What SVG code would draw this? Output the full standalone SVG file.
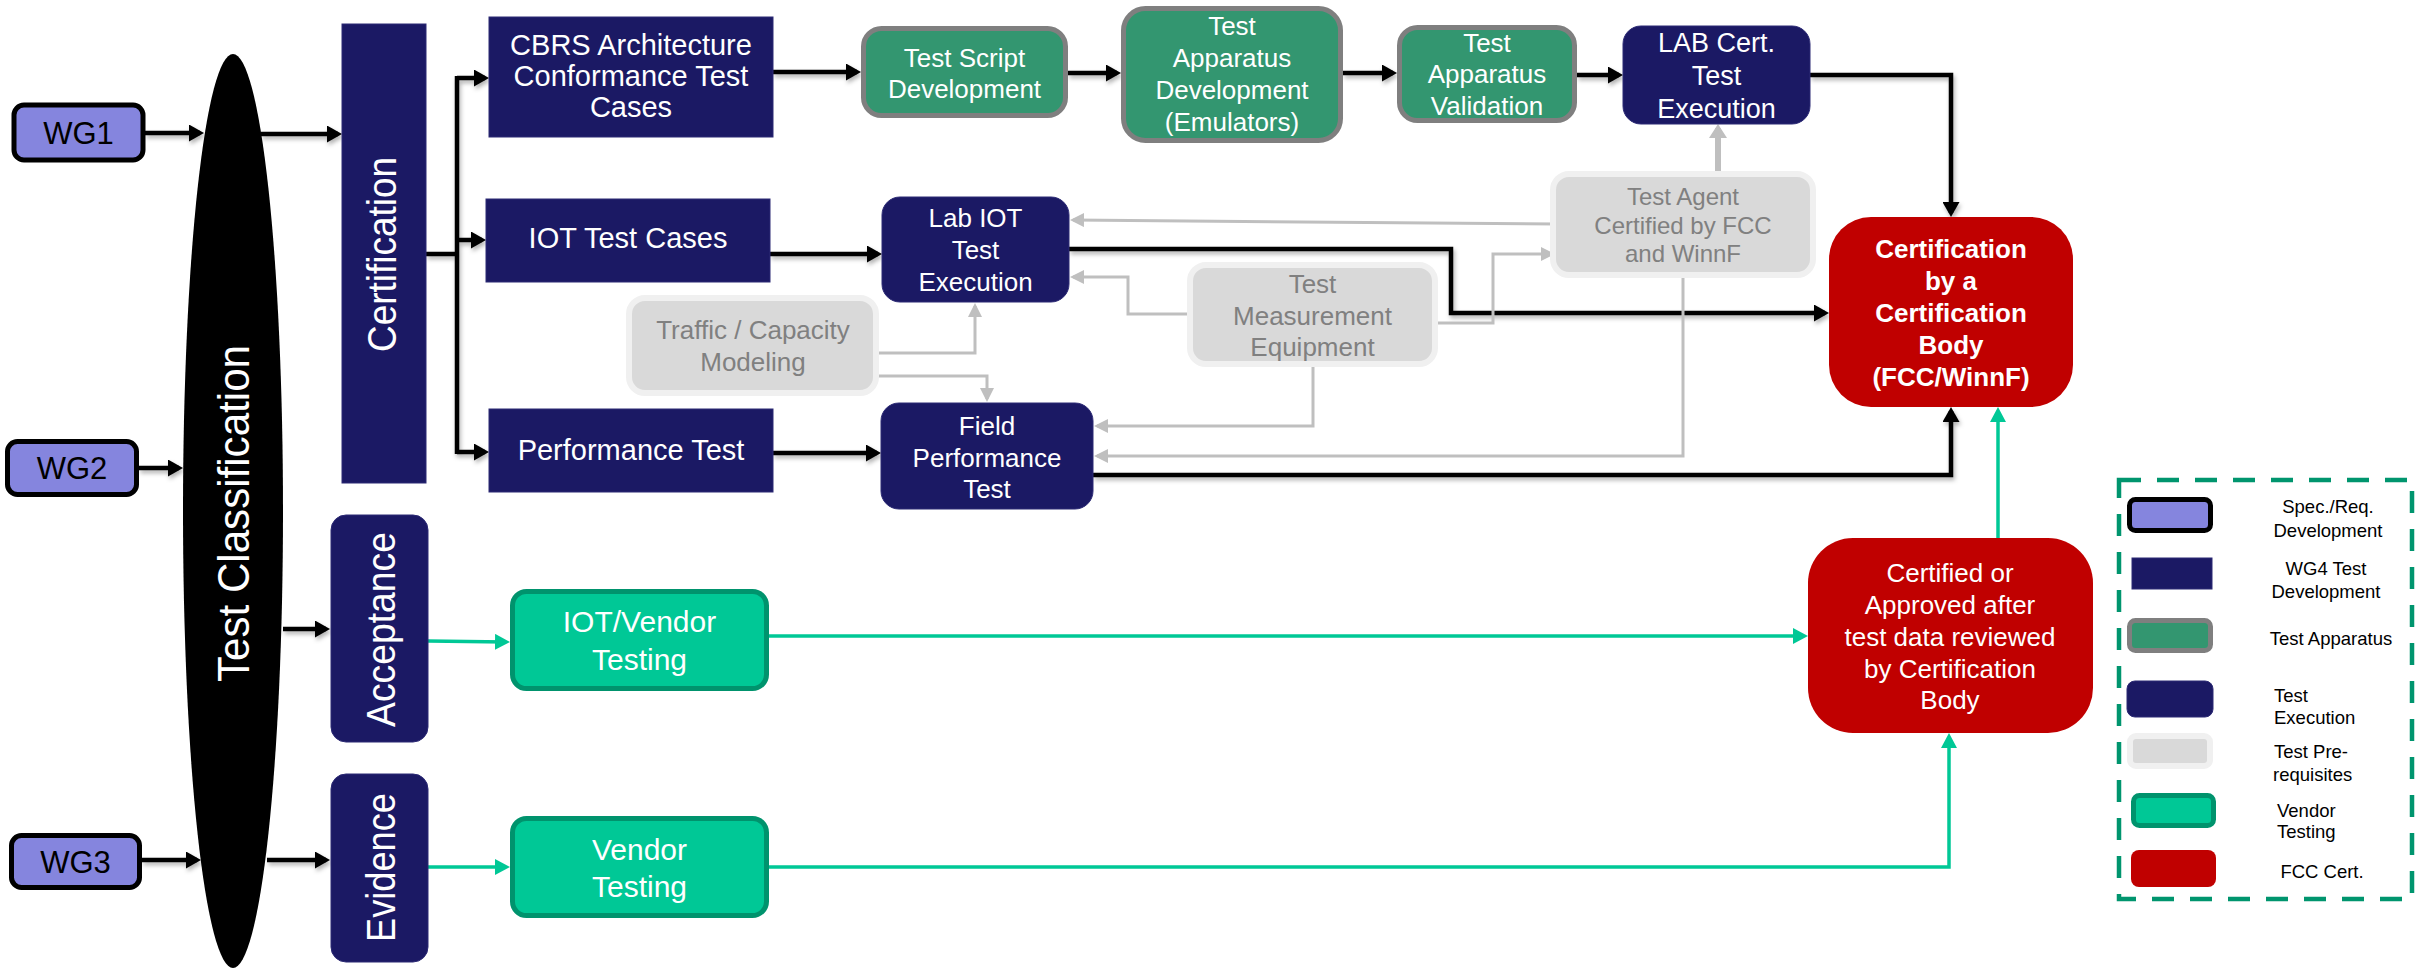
<svg xmlns="http://www.w3.org/2000/svg" width="2420" height="973" viewBox="0 0 2420 973">
<defs>
<style>
text{font-family:"Liberation Sans",Arial,Helvetica,sans-serif}
.wt{fill:#fff;font-size:26px;text-anchor:middle}
.wt29{fill:#fff;font-size:29px;text-anchor:middle}
.gt{fill:#808080;font-size:26px;text-anchor:middle}
.lg{fill:#000;font-size:18.5px}
.navy{fill:#1b1964;stroke:#2c2a75;stroke-width:1}
.app{fill:#339670;stroke:#7f7f7f;stroke-width:5}
.pre{fill:#d9d9d9;stroke:#f0f0f0;stroke-width:6}
.ven{fill:#00c896;stroke:#00936d;stroke-width:5}
.wg{fill:#8585de;stroke:#000;stroke-width:5}
.red{fill:#c00000}
.cb{fill:none;stroke:#000;stroke-width:4.5}
.cg{fill:none;stroke:#bfbfbf;stroke-width:3}
.ct{fill:none;stroke:#00c896;stroke-width:3.5}
</style>
<marker id="aB" viewBox="0 0 15 17" markerWidth="15" markerHeight="17" refX="11" refY="8.5" orient="auto" markerUnits="userSpaceOnUse"><path d="M0,0 L15,8.5 L0,17 z" fill="#000"/></marker>
<marker id="aG" viewBox="0 0 14 14" markerWidth="14" markerHeight="14" refX="11" refY="7" orient="auto" markerUnits="userSpaceOnUse"><path d="M0,0 L14,7 L0,14 z" fill="#bfbfbf"/></marker>
<marker id="aGT" viewBox="0 0 14 18" markerWidth="14" markerHeight="18" refX="10" refY="9" orient="auto" markerUnits="userSpaceOnUse"><path d="M0,0 L14,9 L0,18 z" fill="#bfbfbf"/></marker>
<marker id="aT" viewBox="0 0 15 16" markerWidth="15" markerHeight="16" refX="11" refY="8" orient="auto" markerUnits="userSpaceOnUse"><path d="M0,0 L15,8 L0,16 z" fill="#00c896"/></marker>
<filter id="sh" x="-5%" y="-5%" width="110%" height="110%"><feDropShadow dx="1.5" dy="3" stdDeviation="2" flood-color="#000" flood-opacity="0.3"/></filter>
</defs>
<rect width="2420" height="973" fill="#fff"/>

<g id="connectors">
<g filter="url(#sh)">
<path class="cb" d="M145,133 H200" marker-end="url(#aB)"/>
<path class="cb" d="M261,134 H338" marker-end="url(#aB)"/>
<path class="cb" d="M139,468 H179" marker-end="url(#aB)"/>
<path class="cb" d="M283,629 H326" marker-end="url(#aB)"/>
<path class="cb" d="M142,860 H197" marker-end="url(#aB)"/>
<path class="cb" d="M267,860 H326" marker-end="url(#aB)"/>
<path class="cb" d="M426,254 H457"/>
<path class="cb" d="M457,76 V454"/>
<path class="cb" d="M457,78 H485" marker-end="url(#aB)"/>
<path class="cb" d="M457,240 H482" marker-end="url(#aB)"/>
<path class="cb" d="M457,452 H485" marker-end="url(#aB)"/>
<path class="cb" d="M773,72 H857" marker-end="url(#aB)"/>
<path class="cb" d="M1068,73 H1117" marker-end="url(#aB)"/>
<path class="cb" d="M1343,73 H1393" marker-end="url(#aB)"/>
<path class="cb" d="M1577,75 H1619" marker-end="url(#aB)"/>
<path class="cb" d="M1810,75 H1951 V213" marker-end="url(#aB)"/>
<path class="cb" d="M770,254 H878" marker-end="url(#aB)"/>
<path class="cb" d="M1069,249 H1451 V313 H1825" marker-end="url(#aB)"/>
<path class="cb" d="M773,453 H877" marker-end="url(#aB)"/>
<path class="cb" d="M1093,475 H1951 V411" marker-end="url(#aB)"/>
</g>
<path class="cg" d="M1556,224 L1073,220" marker-end="url(#aG)"/>
<path class="cg" d="M1193,314 H1128 V277 H1073" marker-end="url(#aG)"/>
<path class="cg" d="M1432,323 H1493 V254 H1552" marker-end="url(#aG)"/>
<path class="cg" d="M1313,361 V426 H1097" marker-end="url(#aG)"/>
<path class="cg" d="M1683,272 V456 H1097" marker-end="url(#aG)"/>
<path class="cg" d="M873,353 H975 V306" marker-end="url(#aG)"/>
<path class="cg" d="M873,376 H987 V399" marker-end="url(#aG)"/>
<path fill="none" stroke="#bfbfbf" stroke-width="6" d="M1718,177 V128" marker-end="url(#aGT)"/>
<path class="ct" d="M428,641 L506,642" marker-end="url(#aT)"/>
<path class="ct" d="M428,867 H506" marker-end="url(#aT)"/>
<path class="ct" d="M769,636 H1804" marker-end="url(#aT)"/>
<path class="ct" d="M769,867 H1949 V737" marker-end="url(#aT)"/>
<path class="ct" d="M1998,538 V411" marker-end="url(#aT)"/>
</g>

<g id="wg1"><rect class="wg" x="14" y="105" width="129" height="55" rx="10"/><text x="78.5" y="144" style="font-size:31px;text-anchor:middle">WG1</text></g>
<g id="wg2"><rect class="wg" x="7.5" y="441.5" width="129" height="53" rx="10"/><text x="72" y="479" style="font-size:31px;text-anchor:middle">WG2</text></g>
<g id="wg3"><rect class="wg" x="11.5" y="835.5" width="128" height="52" rx="10"/><text x="75.5" y="873" style="font-size:31px;text-anchor:middle">WG3</text></g>

<g id="test-classification"><ellipse cx="233" cy="511" rx="50" ry="457" fill="#000"/><text transform="translate(249,513.5) rotate(-90)" style="fill:#fff;font-size:44px;text-anchor:middle" textLength="337" lengthAdjust="spacingAndGlyphs">Test Classification</text></g>

<g id="certification"><rect class="navy" x="342" y="24" width="84" height="459"/><text transform="translate(396,254.5) rotate(-90)" style="fill:#fff;font-size:40px;text-anchor:middle" textLength="195" lengthAdjust="spacingAndGlyphs">Certification</text></g>
<g id="acceptance"><rect class="navy" x="331" y="515" width="97" height="227" rx="15"/><text transform="translate(395,629.5) rotate(-90)" style="fill:#fff;font-size:40px;text-anchor:middle" textLength="195" lengthAdjust="spacingAndGlyphs">Acceptance</text></g>
<g id="evidence"><rect class="navy" x="331" y="774" width="97" height="188" rx="15"/><text transform="translate(395,867.5) rotate(-90)" style="fill:#fff;font-size:40px;text-anchor:middle" textLength="149" lengthAdjust="spacingAndGlyphs">Evidence</text></g>

<g id="cbrs"><rect class="navy" x="489" y="17" width="284" height="120"/><text class="wt29" x="631" y="55">CBRS Architecture</text><text class="wt29" x="631" y="86">Conformance Test</text><text class="wt29" x="631" y="117">Cases</text></g>
<g id="iot-test-cases"><rect class="navy" x="486" y="199" width="284" height="83"/><text class="wt29" x="628" y="248">IOT Test Cases</text></g>
<g id="performance-test"><rect class="navy" x="489" y="409" width="284" height="83"/><text class="wt29" x="631" y="460">Performance Test</text></g>

<g id="test-script"><rect class="app" x="863.5" y="28.5" width="202" height="87" rx="18"/><text class="wt" x="964.5" y="67">Test Script</text><text class="wt" x="964.5" y="98">Development</text></g>
<g id="test-apparatus-dev"><rect class="app" x="1123.5" y="8.5" width="217" height="132" rx="22"/><text class="wt" x="1232" y="35">Test</text><text class="wt" x="1232" y="67">Apparatus</text><text class="wt" x="1232" y="99">Development</text><text class="wt" x="1232" y="131">(Emulators)</text></g>
<g id="test-apparatus-val"><rect class="app" x="1399.5" y="27.5" width="175" height="93" rx="18"/><text class="wt" x="1487" y="52">Test</text><text class="wt" x="1487" y="83">Apparatus</text><text class="wt" x="1487" y="115">Validation</text></g>
<g id="lab-cert"><rect class="navy" x="1623" y="26" width="187" height="98" rx="18"/><text class="wt" x="1716.5" y="52" style="font-size:27px">LAB Cert.</text><text class="wt" x="1716.5" y="85" style="font-size:27px">Test</text><text class="wt" x="1716.5" y="118" style="font-size:27px">Execution</text></g>

<g id="lab-iot"><rect class="navy" x="882" y="197" width="187" height="105" rx="18"/><text class="wt" x="975.5" y="227">Lab IOT</text><text class="wt" x="975.5" y="259">Test</text><text class="wt" x="975.5" y="291">Execution</text></g>
<g id="field-perf"><rect class="navy" x="881" y="403" width="212" height="106" rx="18"/><text class="wt" x="987" y="435">Field</text><text class="wt" x="987" y="467">Performance</text><text class="wt" x="987" y="498">Test</text></g>

<g id="traffic"><rect class="pre" x="629" y="298" width="247" height="95" rx="16"/><text class="gt" x="753" y="339">Traffic / Capacity</text><text class="gt" x="753" y="371">Modeling</text></g>
<g id="test-measurement"><rect class="pre" x="1190" y="265" width="245" height="99" rx="16"/><text class="gt" x="1312.5" y="293">Test</text><text class="gt" x="1312.5" y="325">Measurement</text><text class="gt" x="1312.5" y="356">Equipment</text></g>
<g id="test-agent"><rect class="pre" x="1553" y="174" width="260" height="101" rx="16"/><text class="gt" x="1683" y="205" style="font-size:24px">Test Agent</text><text class="gt" x="1683" y="234" style="font-size:24px">Certified by FCC</text><text class="gt" x="1683" y="262" style="font-size:24px">and WinnF</text></g>

<g id="cert-body"><rect class="red" x="1829" y="217" width="244" height="190" rx="42"/><g class="wt" style="font-weight:bold"><text x="1951" y="258">Certification</text><text x="1951" y="290">by a</text><text x="1951" y="322">Certification</text><text x="1951" y="354">Body</text><text x="1951" y="386">(FCC/WinnF)</text></g></g>

<g id="iot-vendor"><rect class="ven" x="512.5" y="591.5" width="254" height="97" rx="14"/><text class="wt" x="639.5" y="632" style="font-size:30px">IOT/Vendor</text><text class="wt" x="639.5" y="670" style="font-size:30px">Testing</text></g>
<g id="vendor"><rect class="ven" x="512.5" y="818.5" width="254" height="97" rx="14"/><text class="wt" x="639.5" y="860" style="font-size:30px">Vendor</text><text class="wt" x="639.5" y="897" style="font-size:30px">Testing</text></g>

<g id="certified-approved"><rect class="red" x="1808" y="538" width="285" height="195" rx="45"/><text class="wt" x="1950" y="582">Certified or</text><text class="wt" x="1950" y="614">Approved after</text><text class="wt" x="1950" y="646">test data reviewed</text><text class="wt" x="1950" y="678">by Certification</text><text class="wt" x="1950" y="709">Body</text></g>

<g id="legend">
<rect x="2119" y="480" width="293" height="419" fill="none" stroke="#00956e" stroke-width="4.5" stroke-dasharray="22 16"/>
<rect class="wg" x="2129.5" y="499.5" width="81" height="31" rx="6"/>
<text class="lg" x="2328" y="513" text-anchor="middle">Spec./Req.</text><text class="lg" x="2328" y="537" text-anchor="middle">Development</text>
<rect class="navy" x="2132" y="558" width="80" height="31"/>
<text class="lg" x="2326" y="575" text-anchor="middle">WG4 Test</text><text class="lg" x="2326" y="598" text-anchor="middle">Development</text>
<rect class="app" x="2129.5" y="620.5" width="81" height="30" rx="6"/>
<text class="lg" x="2331" y="645" text-anchor="middle">Test Apparatus</text>
<rect class="navy" x="2127" y="681" width="86" height="36" rx="8"/>
<text class="lg" x="2274" y="702">Test</text><text class="lg" x="2274" y="724">Execution</text>
<rect class="pre" x="2130" y="736" width="80" height="30" rx="6"/>
<text class="lg" x="2274" y="758">Test Pre-</text><text class="lg" x="2273" y="781">requisites</text>
<rect class="ven" x="2133.5" y="795.5" width="80" height="30" rx="6"/>
<text class="lg" x="2277" y="817">Vendor</text><text class="lg" x="2277" y="838">Testing</text>
<rect class="red" x="2131" y="850" width="85" height="37" rx="8"/>
<text class="lg" x="2322" y="878" text-anchor="middle">FCC Cert.</text>
</g>
</svg>
